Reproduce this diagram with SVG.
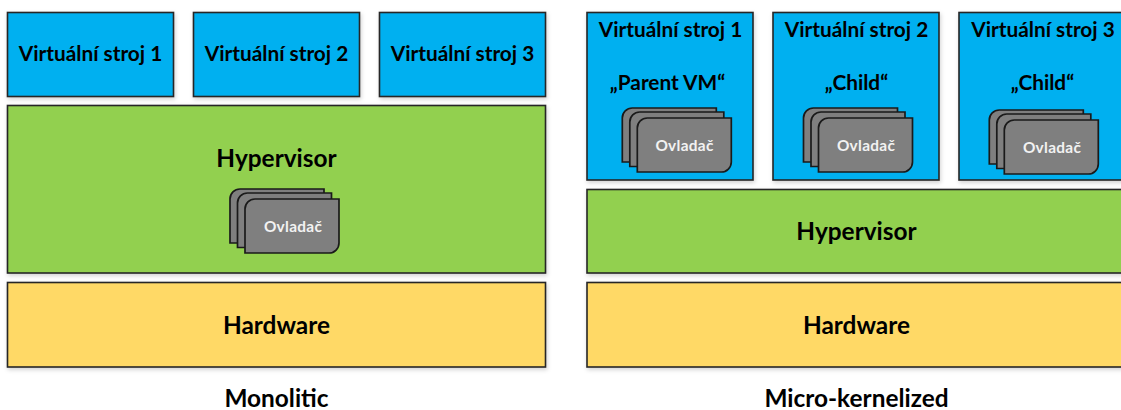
<svg xmlns="http://www.w3.org/2000/svg" width="1121" height="410" viewBox="0 0 1121 410">
<style>
text{font-family:Lato,"Liberation Sans",sans-serif;font-weight:700;fill:#000;text-anchor:middle}
.l{font-size:20.8px}
.h{font-size:24.4px}
.o{font-size:15.4px;letter-spacing:.3px;fill:#f2f2f2}
.b{stroke:#262626;stroke-width:1.6;filter:url(#s)}
.vm{fill:#00b0f0}.hv{fill:#92d050}.hw{fill:#ffd966}
.c{fill:#7f7f7f;stroke:#1a1a1a;stroke-width:1.7}
</style>
<defs>
<filter id="s" x="-5%" y="-5%" width="110%" height="115%"><feDropShadow dx="1" dy="2" stdDeviation="2" flood-color="#000" flood-opacity="0.18"/></filter>
<g id="drv">
<path class="c" d="M10 0H94V54H0V10A10 10 0 0 1 10 0Z"/>
<path class="c" d="M17.500 4H101.500V58.500H7.500V14A10 10 0 0 1 17.500 4Z"/>
<path class="c" d="M25 10H109V54A10 10 0 0 1 99 64H15V20A10 10 0 0 1 25 10Z"/>
</g>
</defs>
<rect width="1121" height="410" fill="#fff"/>
<g id="connectors"/>
<g id="left-vm1"><rect class="b vm" x="7.500" y="12.500" width="166" height="84"/><text class="l" x="90.500" y="61">Virtuální stroj 1</text></g>
<g id="left-vm2"><rect class="b vm" x="193.500" y="12.500" width="166" height="84"/><text class="l" x="276.500" y="61">Virtuální stroj 2</text></g>
<g id="left-vm3"><rect class="b vm" x="379.500" y="12.500" width="166" height="84"/><text class="l" x="462.500" y="61">Virtuální stroj 3</text></g>
<g id="left-hypervisor"><rect class="b hv" x="7.500" y="105.500" width="538" height="167.500"/><text class="h" x="276.500" y="166.500">Hypervisor</text>
<use href="#drv" x="230" y="189"/><text class="o" x="293" y="232">Ovladač</text></g>
<g id="left-hardware"><rect class="b hw" x="7.500" y="282.500" width="538" height="84.500"/><text class="h" x="276.500" y="333.500">Hardware</text></g>
<g id="right-vm1"><rect class="b vm" x="587" y="12.500" width="166" height="167.500"/><text class="l" x="670.500" y="37">Virtuální stroj 1</text><text class="l" x="667.500" y="90">„Parent VM“</text>
<use href="#drv" x="622.300" y="108"/><text class="o" x="684.500" y="151">Ovladač</text></g>
<g id="right-vm2"><rect class="b vm" x="773" y="12.500" width="166" height="167.500"/><text class="l" x="856.500" y="37">Virtuální stroj 2</text><text class="l" x="856.500" y="90">„Child“</text>
<use href="#drv" x="803.500" y="108"/><text class="o" x="866" y="151">Ovladač</text></g>
<g id="right-vm3"><rect class="b vm" x="959" y="12.500" width="166" height="167.500"/><text class="l" x="1043" y="37">Virtuální stroj 3</text><text class="l" x="1042.500" y="90">„Child“</text>
<use href="#drv" x="989.300" y="110"/><text class="o" x="1052" y="153">Ovladač</text></g>
<g id="right-hypervisor"><rect class="b hv" x="587" y="189.500" width="538" height="83.500"/><text class="h" x="856.500" y="239.500">Hypervisor</text></g>
<g id="right-hardware"><rect class="b hw" x="587" y="282.500" width="538" height="84.500"/><text class="h" x="856.500" y="333.500">Hardware</text></g>
<g id="captions"><text class="h" x="276.500" y="407">Monolitic</text><text class="h" x="856.500" y="407">Micro-kernelized</text></g>
</svg>
